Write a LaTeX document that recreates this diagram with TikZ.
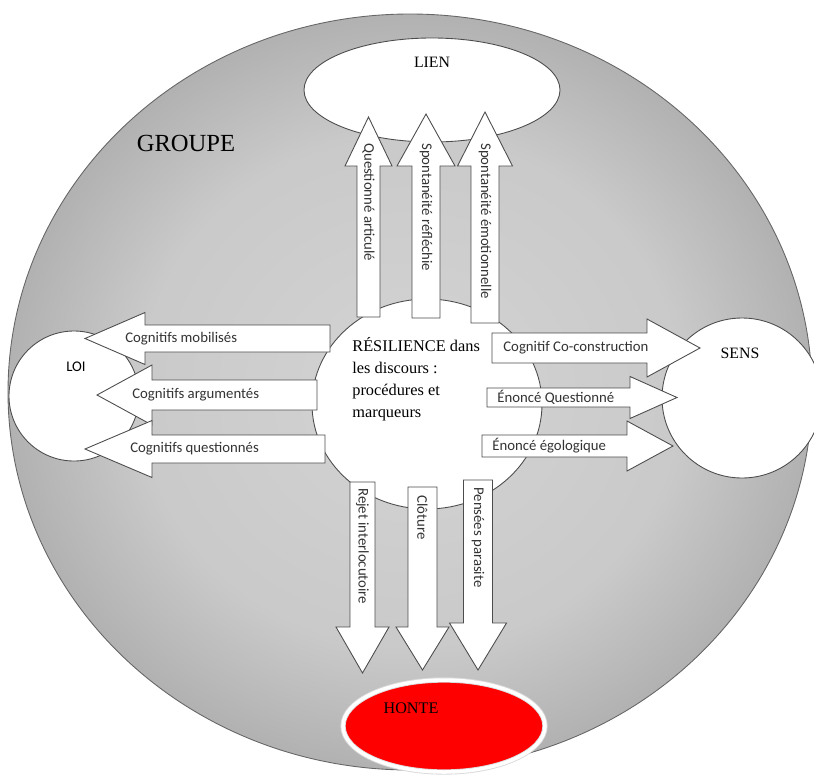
\documentclass[tikz,border=0pt]{standalone}
\usepackage{fontspec}
\setmainfont{Liberation Serif}
\newfontfamily\arrowfont{Carlito}
\pgfdeclareradialshading{groupeshade}{\pgfpointorigin}{%
  color(0bp)=(black!17); color(17bp)=(black!21); color(28bp)=(black!34);
  color(35.4bp)=(black!56); color(50bp)=(black!56)}

\tikzset{
  zone/.style={draw=black!70, fill=white, line width=0.5pt},
  blockarrow/.style={draw=black!70, fill=white, line width=0.5pt, line join=miter},
  arrowtext/.style={font=\arrowfont\fontsize{8.4}{10}\selectfont, text=black!80, inner sep=0pt},
  zonelabel/.style={font=\fontsize{9}{11}\selectfont, inner sep=0pt},
}

\begin{document}
\begin{tikzpicture}[x=0.02cm, y=-0.02cm]
  \useasboundingbox (0,0) rectangle (814,774);

  %%%%%%%%%%%%%%%%%%%%%%%%%%%%%%%%%%%%%%%%%%%%%%%%%%%%%%%%%%%%%%%%%%%%%%%%%%%
  %%%%  Groupe
  \path[shading=groupeshade, draw=black!60, line width=0.5pt]
    (410,392) ellipse [x radius=402, y radius=378];

  %%%%%%%%%%%%%%%%%%%%%%%%%%%%%%%%%%%%%%%%%%%%%%%%%%%%%%%%%%%%%%%%%%%%%%%%%%%
  %%%%  Zones
  \draw[zone] (432,90) ellipse [x radius=128, y radius=52];
  \draw[zone] (74,396) circle [radius=65];
  \draw[zone] (742,398) circle [radius=80];
  \draw[zone] (427,404) ellipse [x radius=115, y radius=105];
  \draw[draw=black!15, line width=3pt, fill=red] (444,726) ellipse [x radius=101, y radius=46];
  \draw[draw=white, line width=2pt] (444,726) ellipse [x radius=101, y radius=46];

  %%%%%%%%%%%%%%%%%%%%%%%%%%%%%%%%%%%%%%%%%%%%%%%%%%%%%%%%%%%%%%%%%%%%%%%%%%%
  %%%%  Up
  \foreach \cx/\hw/\hh/\tipy/\basey/\taily/\starty/\txt [count=\i] in
    {368.5/11.5/23.5/117/166/317/143/{Questionné articulé},
     426/14/29/114/166/318/143/{Spontanéité réfléchie},
     485/14/27.5/112/166/323/143/{Spontanéité émotionnelle}}
   {\draw[blockarrow] (\cx-\hw,\taily) -- (\cx-\hw,\basey) -- (\cx-\hh,\basey) -- (\cx,\tipy)
      -- (\cx+\hh,\basey) -- (\cx+\hw,\basey) -- (\cx+\hw,\taily) -- cycle;
    \node[arrowtext, rotate=-90, anchor=west] (up\i) at (\cx,\starty) {\txt};
   };

  %%%%%%%%%%%%%%%%%%%%%%%%%%%%%%%%%%%%%%%%%%%%%%%%%%%%%%%%%%%%%%%%%%%%%%%%%%%
  %%%%  Down
  \foreach \cx/\hw/\hh/\tipy/\basey/\taily/\starty/\txt [count=\i] in
    {362.5/12.5/26.5/673/627/482/488/{Rejet interlocutoire},
     422.5/14.5/26.5/670/627/487/495/{Clôture},
     478/14.5/28.5/670/623/480/487/{Pensées parasite}}
   {\draw[blockarrow] (\cx-\hw,\taily) -- (\cx-\hw,\basey) -- (\cx-\hh,\basey) -- (\cx,\tipy)
      -- (\cx+\hh,\basey) -- (\cx+\hw,\basey) -- (\cx+\hw,\taily) -- cycle;
    \node[arrowtext, rotate=-90, anchor=west] (down\i) at (\cx,\starty) {\txt};
   };

  %%%%%%%%%%%%%%%%%%%%%%%%%%%%%%%%%%%%%%%%%%%%%%%%%%%%%%%%%%%%%%%%%%%%%%%%%%%
  %%%%  Left
  \foreach \cy/\hw/\hh/\tipx/\basex/\tailx/\startx/\txt [count=\i] in
    {338.5/13.5/26/85/145/330/125/{Cognitifs mobilisés},
     395/15/30/97/152/317/132/{Cognitifs argumentés},
     449/14/28.5/85/152/325/130/{Cognitifs questionnés}}
   {\draw[blockarrow] (\tailx,\cy-\hw) -- (\basex,\cy-\hw) -- (\basex,\cy-\hh) -- (\tipx,\cy)
      -- (\basex,\cy+\hh) -- (\basex,\cy+\hw) -- (\tailx,\cy+\hw) -- cycle;
    \node[arrowtext, anchor=west] (left\i) at (\startx,\cy) {\txt};
   };

  %%%%%%%%%%%%%%%%%%%%%%%%%%%%%%%%%%%%%%%%%%%%%%%%%%%%%%%%%%%%%%%%%%%%%%%%%%%
  %%%%  Right
  \foreach \cy/\hw/\hh/\tipx/\basex/\tailx/\startx/\txt [count=\i] in
    {348/15/29/700/647/492/503/{Cognitif Co-construction},
     397.5/9.5/21/677/630/487/497/{Énoncé Questionné},
     446/11/25/673/627/482/492/{Énoncé égologique}}
   {\draw[blockarrow] (\tailx,\cy-\hw) -- (\basex,\cy-\hw) -- (\basex,\cy-\hh) -- (\tipx,\cy)
      -- (\basex,\cy+\hh) -- (\basex,\cy+\hw) -- (\tailx,\cy+\hw) -- cycle;
    \node[arrowtext, anchor=west] (right\i) at (\startx,\cy) {\txt};
   };

  %%%%%%%%%%%%%%%%%%%%%%%%%%%%%%%%%%%%%%%%%%%%%%%%%%%%%%%%%%%%%%%%%%%%%%%%%%%
  %%%%  Labels
  \node[font=\fontsize{14}{16}\selectfont, inner sep=0pt] (groupe) at (186,143) {GROUPE};
  \node[zonelabel] (lien) at (432,62) {LIEN};
  \node[arrowtext, text=black] (loi) at (76,367) {LOI};
  \node[zonelabel] (sens) at (740,353) {SENS};
  \node[inner sep=0pt, font=\fontsize{9.2}{11}\selectfont] (honte) at (411,708) {HONTE};
  \node[align=left, anchor=north west, inner sep=0pt, font=\fontsize{9.3}{12.5}\selectfont]
    (resilience) at (352,337) {RÉSILIENCE dans\\les discours :\\procédures et\\marqueurs};
\end{tikzpicture}
\end{document}
